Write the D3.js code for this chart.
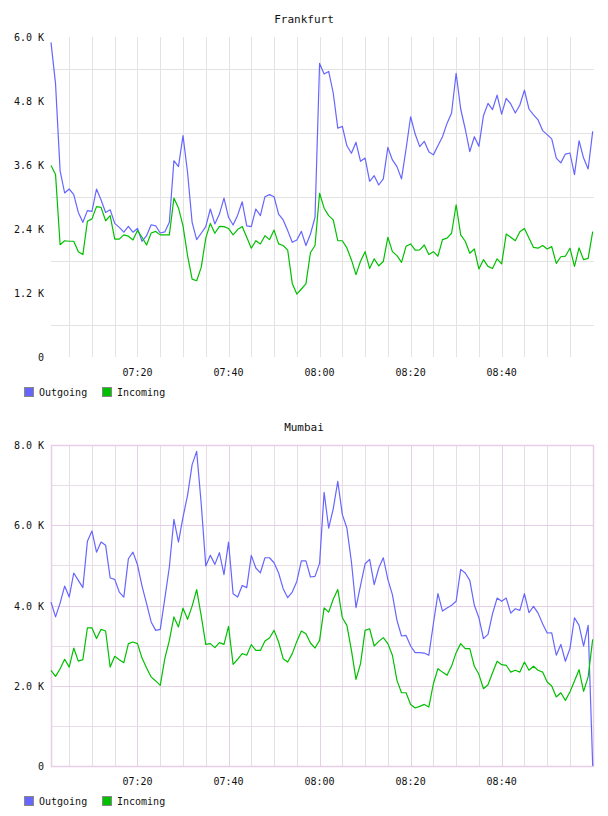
<!DOCTYPE html>
<meta charset="utf-8">
<script src="https://d3js.org/d3.v7.min.js"></script>
<style>
  body { margin: 0; background: #fff; }
  text { font-family: "DejaVu Sans Mono", monospace; fill: #111; }
</style>
<div id="my_dataviz"></div>
<script>

// time axis: one sample per minute, 07:01 .. 09:00
var startTime = "07:01", endTime = "09:00";
var xTickLabels = ["07:20", "07:40", "08:00", "08:20", "08:40"];
var seriesNames = ["Outgoing", "Incoming"];

// Frankfurt
var frankfurtOut = [5900,5120,3490,3075,3150,3045,2710,2525,2745,2730,3150,2945,2710,2760,2505,2430,2340,2450,2340,2410,
  2170,2275,2480,2460,2325,2345,2525,3680,3570,4150,3460,2525,2200,2320,2445,2775,2495,2680,2980,2620,
  2475,2660,2910,2460,2445,2775,2650,3005,3045,3005,2680,2570,2370,2150,2195,2355,2090,2305,2620,5505,
  5305,5355,4950,4290,4325,3960,3820,4025,3670,3730,3295,3400,3225,3340,3930,3695,3570,3340,3900,4505,
  4180,3945,4045,3850,3790,3960,4130,4380,4575,5320,4650,4275,3850,4130,3950,4525,4755,4640,4910,4555,
  4850,4745,4575,4725,5005,4650,4540,4445,4245,4170,4090,3730,3640,3805,3825,3420,4055,3730,3525,4230];
var frankfurtIn = [3590,3420,2105,2180,2170,2170,1975,1920,2545,2590,2820,2805,2555,2650,2210,2210,2290,2265,2195,2370,
  2245,2100,2325,2355,2290,2290,2290,2980,2795,2460,1900,1460,1430,1680,2230,2505,2320,2450,2445,2410,
  2290,2390,2445,2245,2040,2180,2120,2275,2200,2380,2120,2090,2005,1380,1180,1275,1370,1960,2090,3070,
  2790,2650,2570,2180,2180,2045,1820,1545,1795,1975,1660,1840,1710,1790,2245,1975,1900,1775,2075,2120,
  2005,2010,2100,1920,1975,1890,2200,2230,2320,2855,2290,2170,1945,2025,1650,1825,1700,1660,1840,1745,
  2305,2245,2180,2350,2410,2230,2055,2040,2090,2025,2070,1755,1880,1890,2040,1700,2045,1825,1850,2350];

// Mumbai
var mumbaiOut = [4085,3715,4060,4485,4210,4810,4625,4445,5600,5855,5330,5580,5500,4685,4650,4335,4210,5165,5330,5015,
  4485,4045,3590,3380,3405,4170,4960,6145,5580,6205,6745,7510,7840,6535,4985,5250,5025,5315,4770,5580,
  4295,4210,4500,4445,5250,4935,4815,5190,5190,5065,4810,4420,4195,4335,4600,5110,5110,4710,4725,5050,
  6820,5930,6410,7095,6265,5930,5085,3945,4500,5040,5150,4520,4935,5190,4650,4270,3630,3240,3255,2990,
  2825,2825,2815,2760,3545,4295,3860,3935,4005,4105,4900,4810,4625,4005,3695,3175,3280,3795,4185,4105,
  4185,3810,3920,3880,4295,3820,3980,3810,3545,3315,3320,2760,3030,2610,2925,3695,3505,2990,3505,0];
var mumbaiIn = [2385,2235,2425,2660,2465,2940,2615,2650,3445,3440,3175,3405,3365,2465,2735,2650,2575,3050,3090,3050,
  2690,2440,2220,2120,2010,2675,3130,3715,3465,3935,3655,3985,4395,3740,3030,3050,2950,3075,3030,3480,
  2535,2660,2800,2760,3025,2880,2880,3115,3190,3380,3090,2675,2590,2800,3105,3365,3295,3065,2940,3130,
  3940,3835,4155,4400,3695,3505,2880,2160,2550,3380,3420,2990,3105,3200,3050,2760,2135,1825,1825,1535,
  1445,1485,1535,1470,2050,2425,2340,2260,2490,2825,3050,2925,2925,2485,2285,1925,2025,2325,2610,2525,
  2510,2340,2385,2340,2590,2385,2485,2385,2340,2095,1995,1720,1825,1635,1845,2120,2400,1860,2220,3155];

var colors = ["#6666ff", "#00c000"];

var W = 608, H = 816;
var svg = d3.select("#my_dataviz").append("svg")
  .attr("width", W).attr("height", H);

var parseT = d3.timeParse("%H:%M");
var times = d3.timeMinute.range(parseT(startTime), d3.timeMinute.offset(parseT(endTime), 1));
var fmt = d3.timeFormat("%H:%M");

function kFmt(v) { return v === 0 ? "0" : (v / 1000).toFixed(1) + " K"; }

function drawChart(opt) {
  var left = 51, plotW = 543, top = opt.top, h = opt.height;
  var g = svg.append("g").attr("transform", "translate(" + left + "," + top + ")");

  var x = d3.scaleTime().domain([times[0], times[times.length - 1]]).range([0, 541.7]);
  var y = d3.scaleLinear().domain([0, opt.max]).range([h, 0]);

  // title
  svg.append("text")
    .attr("x", W / 2).attr("y", top - 17)
    .attr("text-anchor", "middle").attr("dominant-baseline", "middle")
    .style("font-size", "11px")
    .text(opt.title);

  // vertical grid every 5 minutes
  var vt = d3.timeMinute.every(5).range(times[0], times[times.length - 1]);
  g.selectAll(".vgrid").data(vt).enter().append("line")
    .attr("x1", function(d) { return Math.round(x(d)) + 0.5; })
    .attr("x2", function(d) { return Math.round(x(d)) + 0.5; })
    .attr("y1", 0).attr("y2", h)
    .style("stroke", function(d) { return (opt.pink && d.getMinutes() % 20 === 0) ? opt.major : opt.minor; })
    .style("stroke-width", 1);

  // horizontal grid
  g.selectAll(".hgrid").data(opt.grid).enter().append("line")
    .attr("x1", 0).attr("x2", plotW)
    .attr("y1", function(d) { return Math.round(y(d)) + 0.5; })
    .attr("y2", function(d) { return Math.round(y(d)) + 0.5; })
    .style("stroke", function(d) { return (opt.pink && opt.ticks.indexOf(d) >= 0) ? opt.major : opt.minor; })
    .style("stroke-width", 1);

  if (opt.pink) {
    g.append("rect")
      .attr("x", 0.5).attr("y", 0.5).attr("width", plotW - 1).attr("height", h)
      .style("fill", "none").style("stroke", opt.major).style("stroke-width", 1.5);
  }

  // y labels
  g.selectAll(".ylab").data(opt.ticks).enter().append("text")
    .attr("x", -7).attr("y", function(d) { return y(d) + 1; })
    .attr("text-anchor", "end").attr("dominant-baseline", "middle")
    .style("font-size", "10px")
    .text(kFmt);

  // x labels
  g.selectAll(".xlab").data(xTickLabels).enter().append("text")
    .attr("x", function(d) { return x(parseT(d)); })
    .attr("y", h + 16)
    .attr("text-anchor", "middle").attr("dominant-baseline", "middle")
    .style("font-size", "10px")
    .text(function(d) { return d; });

  // lines
  var line = d3.line()
    .x(function(d, i) { return x(times[i]); })
    .y(function(d) { return y(d); });
  opt.series.forEach(function(s, k) {
    g.append("path").datum(s)
      .attr("d", line)
      .style("fill", "none")
      .style("stroke", colors[k])
      .style("stroke-width", 1.2)
      .style("stroke-linejoin", "round");
  });

  // legend
  var lg = svg.append("g").attr("transform", "translate(24," + (top + h + 30) + ")");
  seriesNames.forEach(function(name, k) {
    var off = k * 78;
    lg.append("rect")
      .attr("x", off + 0.5).attr("y", 0.5).attr("width", 9).attr("height", 9)
      .style("fill", colors[k]).style("stroke", "#888");
    lg.append("text")
      .attr("x", off + 15).attr("y", 5.5)
      .attr("dominant-baseline", "middle")
      .style("font-size", "10px")
      .text(name);
  });
}

drawChart({
  title: "Frankfurt", top: 37, height: 320, max: 6000,
  ticks: [0, 1200, 2400, 3600, 4800, 6000],
  grid: [600, 1800, 3000, 4200, 5400],
  series: [frankfurtOut, frankfurtIn],
  pink: false, minor: "#e3e3e3", major: "#e3e3e3"
});

drawChart({
  title: "Mumbai", top: 445, height: 321, max: 8000,
  ticks: [0, 2000, 4000, 6000, 8000],
  grid: [1000, 2000, 3000, 4000, 5000, 6000, 7000],
  series: [mumbaiOut, mumbaiIn],
  pink: true, minor: "#e6dde8", major: "#e8cfe8"
});

</script>
